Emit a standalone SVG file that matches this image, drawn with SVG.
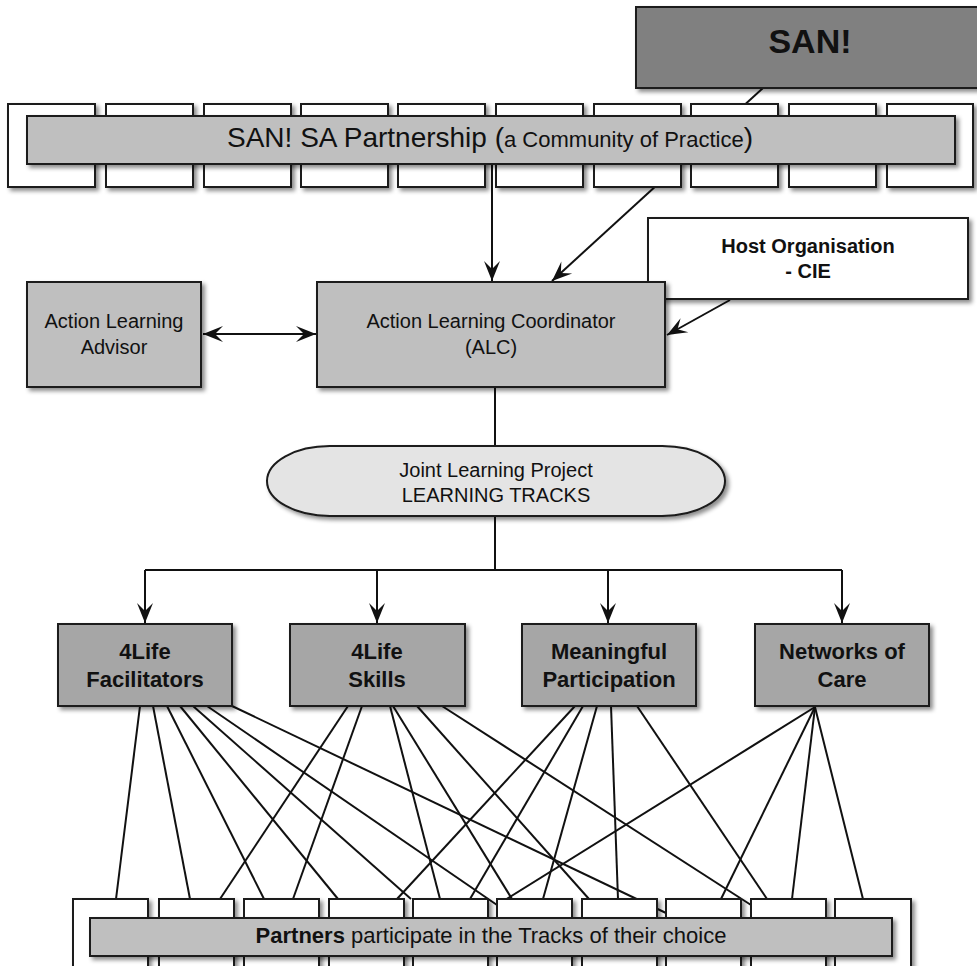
<svg xmlns="http://www.w3.org/2000/svg" width="977" height="966" viewBox="0 0 977 966">
<style>
  .box{stroke:#1a1a1a;stroke-width:2;filter:url(#sh)}
  .white{fill:#ffffff}
  .light{fill:#bfbfbf}
  .mid{fill:#a6a6a6}
  .dark{fill:#808080}
  .pill{fill:#e4e4e4}
  .con{stroke:#111;stroke-width:2;fill:none}
  text{font-family:"Liberation Sans",Arial,sans-serif;fill:#111}
  .t20{font-size:20px}
  .b20{font-size:20px;font-weight:bold}
  .b22{font-size:22px;font-weight:bold}
</style>
<defs>
  <filter id="sh" x="-10%" y="-10%" width="130%" height="150%">
    <feDropShadow dx="3" dy="3" stdDeviation="2" flood-color="#000" flood-opacity="0.45"/>
  </filter>
  <marker id="ah" viewBox="-21 -9 22 18" refX="0" refY="0" markerWidth="22" markerHeight="18" markerUnits="userSpaceOnUse" orient="auto-start-reverse">
    <path d="M0,0 L-20,-8 L-12,0 L-20,8 Z" fill="#111"/>
  </marker>
</defs>

<g id="connectors">
  <line class="con" x1="763" y1="88" x2="552" y2="281" marker-end="url(#ah)"/>
  <line class="con" x1="492" y1="164" x2="492" y2="281" marker-end="url(#ah)"/>
  <line class="con" x1="203" y1="334" x2="316" y2="334" marker-start="url(#ah)" marker-end="url(#ah)"/>
  <line class="con" x1="730" y1="300" x2="667" y2="335" marker-end="url(#ah)"/>
  <line class="con" x1="495" y1="387" x2="495" y2="446"/>
  <line class="con" x1="495" y1="516" x2="495" y2="570"/>
  <polyline class="con" points="145,570 842,570"/>
  <line class="con" x1="145" y1="570" x2="145" y2="623" marker-end="url(#ah)"/>
  <line class="con" x1="377" y1="570" x2="377" y2="623" marker-end="url(#ah)"/>
  <line class="con" x1="608" y1="570" x2="608" y2="623" marker-end="url(#ah)"/>
  <line class="con" x1="842" y1="570" x2="842" y2="623" marker-end="url(#ah)"/>
  <g class="con">
    <line x1="140" y1="706" x2="116" y2="899"/>
    <line x1="153" y1="706" x2="190" y2="899"/>
    <line x1="167" y1="706" x2="264" y2="899"/>
    <line x1="180" y1="706" x2="338" y2="899"/>
    <line x1="193" y1="706" x2="411" y2="899"/>
    <line x1="207" y1="706" x2="497" y2="905"/>
    <line x1="232" y1="706" x2="666" y2="913"/>
    <line x1="348" y1="706" x2="220" y2="899"/>
    <line x1="362" y1="706" x2="293" y2="899"/>
    <line x1="390" y1="706" x2="440" y2="899"/>
    <line x1="393" y1="706" x2="512" y2="899"/>
    <line x1="417" y1="706" x2="589" y2="899"/>
    <line x1="442" y1="706" x2="751" y2="905"/>
    <line x1="575" y1="706" x2="397" y2="899"/>
    <line x1="583" y1="706" x2="470" y2="899"/>
    <line x1="597" y1="706" x2="543" y2="899"/>
    <line x1="611" y1="706" x2="618" y2="899"/>
    <line x1="637" y1="706" x2="767" y2="899"/>
    <line x1="815" y1="707" x2="497" y2="905"/>
    <line x1="815" y1="707" x2="721" y2="899"/>
    <line x1="815" y1="707" x2="792" y2="899"/>
    <line x1="815" y1="707" x2="863" y2="899"/>
  </g>
</g>

<g id="san">
  <rect class="box dark" x="636" y="7" width="360" height="81"/>
  <text x="810" y="53" text-anchor="middle" style="font-size:34px;font-weight:bold">SAN!</text>
</g>

<g id="partnership">
  <rect class="box white" x="8" y="104" width="87" height="83"/>
  <rect class="box white" x="106" y="104" width="87" height="83"/>
  <rect class="box white" x="204" y="104" width="87" height="83"/>
  <rect class="box white" x="301" y="104" width="87" height="83"/>
  <rect class="box white" x="398" y="104" width="87" height="83"/>
  <rect class="box white" x="496" y="104" width="87" height="83"/>
  <rect class="box white" x="594" y="104" width="87" height="83"/>
  <rect class="box white" x="691" y="104" width="87" height="83"/>
  <rect class="box white" x="789" y="104" width="87" height="83"/>
  <rect class="box white" x="887" y="104" width="86" height="83"/>
  <rect class="box light" x="27" y="116" width="928" height="48"/>
  <text x="490" y="147" text-anchor="middle" style="font-size:28px">SAN! SA Partnership <tspan>(</tspan><tspan style="font-size:22px">a Community of Practice</tspan><tspan>)</tspan></text>
</g>

<g id="host">
  <rect class="box white" x="648" y="218" width="320" height="81"/>
  <text class="b20" x="808" y="253" text-anchor="middle">Host Organisation</text>
  <text class="b20" x="808" y="278" text-anchor="middle">- CIE</text>
</g>

<g id="advisor">
  <rect class="box light" x="27" y="282" width="174" height="105"/>
  <text class="t20" x="114" y="328" text-anchor="middle">Action Learning</text>
  <text class="t20" x="114" y="354" text-anchor="middle">Advisor</text>
</g>

<g id="alc">
  <rect class="box light" x="317" y="282" width="348" height="105"/>
  <text class="t20" x="491" y="328" text-anchor="middle">Action Learning Coordinator</text>
  <text class="t20" x="491" y="354" text-anchor="middle">(ALC)</text>
</g>

<g id="tracks">
  <path class="box pill" d="M330,446 H662 A63,35 0 0 1 662,516 H330 A63,35 0 0 1 330,446 Z"/>
  <text class="t20" x="496" y="477" text-anchor="middle">Joint Learning Project</text>
  <text class="t20" x="496" y="502" text-anchor="middle">LEARNING TRACKS</text>
</g>

<g id="facilitators">
  <rect class="box mid" x="58" y="624" width="174" height="82"/>
  <text class="b22" x="145" y="659" text-anchor="middle">4Life</text>
  <text class="b22" x="145" y="687" text-anchor="middle">Facilitators</text>
</g>

<g id="skills">
  <rect class="box mid" x="290" y="624" width="175" height="82"/>
  <text class="b22" x="377" y="659" text-anchor="middle">4Life</text>
  <text class="b22" x="377" y="687" text-anchor="middle">Skills</text>
</g>

<g id="meaningful">
  <rect class="box mid" x="522" y="624" width="174" height="82"/>
  <text class="b22" x="609" y="659" text-anchor="middle">Meaningful</text>
  <text class="b22" x="609" y="687" text-anchor="middle">Participation</text>
</g>

<g id="networks">
  <rect class="box mid" x="755" y="624" width="174" height="82"/>
  <text class="b22" x="842" y="659" text-anchor="middle">Networks of</text>
  <text class="b22" x="842" y="687" text-anchor="middle">Care</text>
</g>

<g id="partners">
  <rect class="box white" x="73" y="899" width="75" height="70"/>
  <rect class="box white" x="159" y="899" width="75" height="70"/>
  <rect class="box white" x="244" y="899" width="75" height="70"/>
  <rect class="box white" x="329" y="899" width="75" height="70"/>
  <rect class="box white" x="413" y="899" width="75" height="70"/>
  <rect class="box white" x="497" y="899" width="75" height="70"/>
  <rect class="box white" x="582" y="899" width="75" height="70"/>
  <rect class="box white" x="666" y="899" width="75" height="70"/>
  <rect class="box white" x="751" y="899" width="75" height="70"/>
  <rect class="box white" x="835" y="899" width="76" height="70"/>
  <rect class="box light" x="90" y="918" width="802" height="38"/>
  <text x="491" y="943" text-anchor="middle" style="font-size:22px"><tspan font-weight="bold">Partners</tspan> participate in the Tracks of their choice</text>
</g>
</svg>
